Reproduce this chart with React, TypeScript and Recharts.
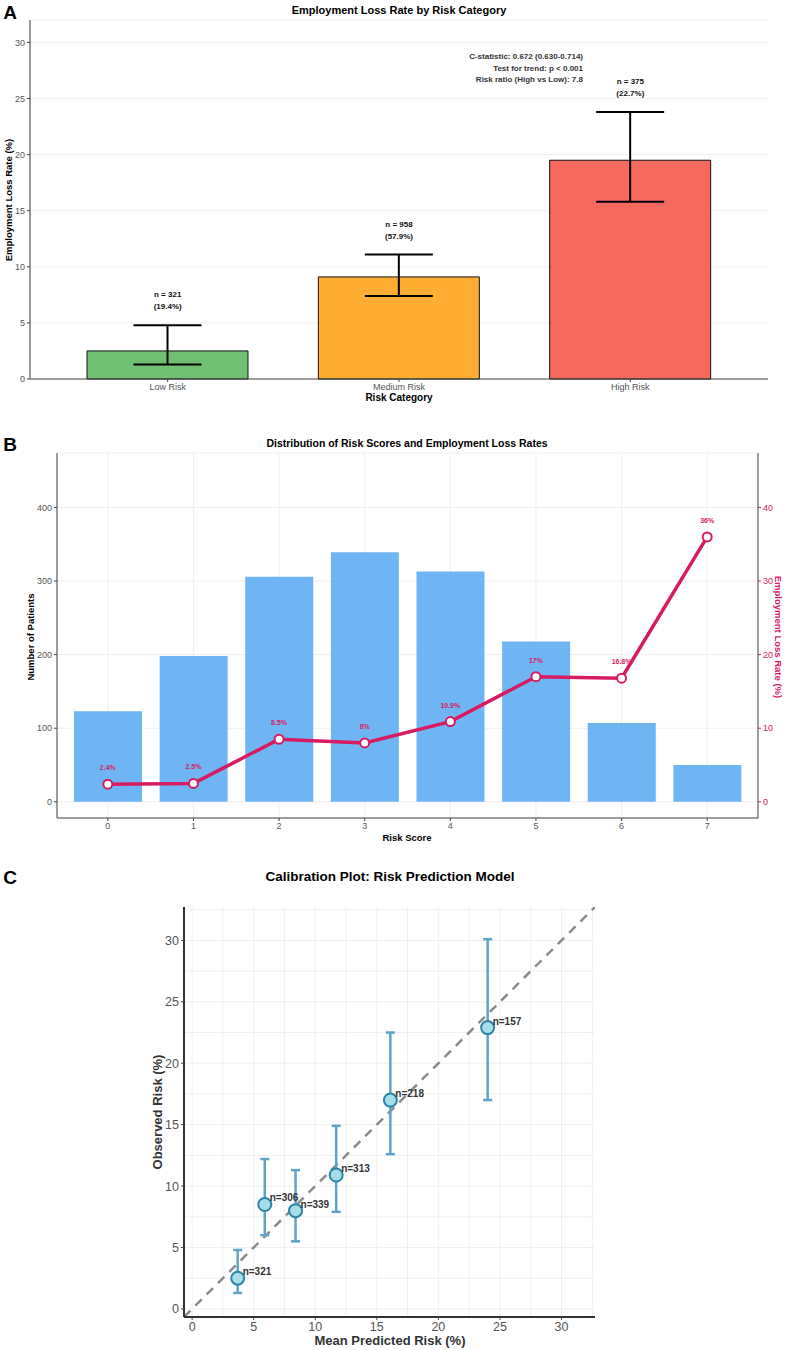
import React from 'react';
import {
  ComposedChart,
  ScatterChart,
  Bar,
  Line,
  Scatter,
  XAxis,
  YAxis,
  CartesianGrid,
  ErrorBar,
  LabelList,
  Cell,
  ReferenceLine,
} from 'recharts';

const FONT = '"Liberation Sans", Arial, Helvetica, sans-serif';

// ---------- Panel A: employment loss by risk category ----------
const categories = ['Low Risk', 'Medium Risk', 'High Risk'];
const lossRate = [2.5, 9.1, 19.5];
const ciLow = [1.3, 7.4, 15.8];
const ciHigh = [4.8, 11.1, 23.8];
const categoryN = [321, 958, 375];
const categoryShare = [19.4, 57.9, 22.7];
const categoryColors = ['#70BF73', '#FFAD33', '#F6695E'];
const rateTicksA = [0, 5, 10, 15, 20, 25, 30];
const statsLines = [
  'C-statistic: 0.672 (0.630-0.714)',
  'Test for trend: p < 0.001',
  'Risk ratio (High vs Low): 7.8',
];

// ---------- Panel B: score distribution ----------
const riskScores = ['0', '1', '2', '3', '4', '5', '6', '7'];
const patientCounts = [123, 198, 306, 339, 313, 218, 107, 50];
const scoreRates = [2.4, 2.5, 8.5, 8, 10.9, 17, 16.8, 36];
const countTicks = [0, 100, 200, 300, 400];
const rateTicksB = [0, 10, 20, 30, 40];

// ---------- Panel C: calibration ----------
const predicted = [3.7, 5.9, 8.4, 11.7, 16.1, 24.0];
const observed = [2.5, 8.5, 8.0, 10.9, 17.0, 22.9];
const obsLow = [1.3, 6.0, 5.5, 7.9, 12.6, 17.0];
const obsHigh = [4.8, 12.2, 11.3, 14.9, 22.5, 30.1];
const groupN = [321, 306, 339, 313, 218, 157];
const calibTicks = [0, 5, 10, 15, 20, 25, 30];
const calibGrid = [0, 2.5, 5, 7.5, 10, 12.5, 15, 17.5, 20, 22.5, 25, 27.5, 30, 32.5];

const LABEL_GAP = 2.2; // space between upper CI and the count label, in %

const dataA = categories.map((category, i) => ({
  category,
  rate: lossRate[i],
  err: [lossRate[i] - ciLow[i], ciHigh[i] - lossRate[i]],
  labelY: ciHigh[i] + LABEL_GAP,
}));

const dataB = riskScores.map((score, i) => ({
  score,
  n: patientCounts[i],
  rate: scoreRates[i],
}));

const dataC = predicted.map((p, i) => ({
  predicted: p,
  observed: observed[i],
  err: [observed[i] - obsLow[i], obsHigh[i] - observed[i]],
  n: groupN[i],
}));

const PINK = '#D81B60';
const AXIS = '#444';
const TICK = '#555';

type TxtProps = {
  x: number;
  y: number;
  size: number;
  color?: string;
  weight?: number;
  rotate?: number;
  align?: 'center' | 'right' | 'left';
  children: React.ReactNode;
};

const Txt = ({ x, y, size, color = '#000', weight = 700, rotate = 0, align = 'center', children }: TxtProps) => {
  const tx = align === 'center' ? '-50%' : align === 'right' ? '-100%' : '0';
  return (
    <div
      style={{
        position: 'absolute',
        left: x,
        top: y,
        transform: `translate(${tx}, -50%) rotate(${rotate}deg)`,
        fontFamily: FONT,
        fontSize: size,
        fontWeight: weight,
        color,
        whiteSpace: 'nowrap',
        lineHeight: 1,
      }}
    >
      {children}
    </div>
  );
};

const renderCountLabel = (props: any) => {
  const { x, y, value } = props;
  const i = categories.indexOf(value);
  if (i < 0) return null;
  return (
    <text x={x} y={y} textAnchor="middle" fontSize={8} fontWeight={700} fill="#111" fontFamily={FONT}>
      <tspan x={x} dy={-3}>{`n = ${categoryN[i]}`}</tspan>
      <tspan x={x} dy={12}>{`(${categoryShare[i]}%)`}</tspan>
    </text>
  );
};

const renderCalibPoint = (props: any) => {
  const { cx, cy, payload } = props;
  if (cx == null || cy == null) return null;
  return (
    <g>
      <circle cx={cx} cy={cy} r={6.5} fill="#A8DCE6" stroke="#2A86A8" strokeWidth={2} />
      <text x={cx + 5} y={cy - 3} fontSize={10} fontWeight={700} fill="#333" fontFamily={FONT}>
        {`n=${payload.n}`}
      </text>
    </g>
  );
};

export default function App() {
  return (
    <div style={{ position: 'absolute', left: 0, top: 0, width: 786, height: 1350, background: '#fff', fontFamily: FONT }}>
      {/* Panel A */}
      <div style={{ position: 'absolute', left: 0, top: 0 }}>
        <ComposedChart width={786} height={410} data={dataA} margin={{ top: 20, right: 18, bottom: 0, left: 0 }}>
          <CartesianGrid vertical={false} stroke="#EFEFEF" />
          <XAxis
            dataKey="category"
            height={31}
            padding={{ left: 22, right: 22 }}
            tickSize={3}
            tickLine={{ stroke: AXIS }}
            axisLine={{ stroke: AXIS }}
            tick={{ fontSize: 9, fill: TICK, fontFamily: FONT }}
          />
          <YAxis
            width={30}
            domain={[0, 32]}
            ticks={rateTicksA}
            tickSize={3}
            tickLine={{ stroke: AXIS }}
            axisLine={{ stroke: '#777', strokeWidth: 1.5 }}
            tick={{ fontSize: 9, fill: TICK, fontFamily: FONT }}
          />
          <Bar dataKey="rate" barSize={161} stroke="#111" strokeWidth={1} isAnimationActive={false}>
            {dataA.map((d, i) => (
              <Cell key={d.category} fill={categoryColors[i]} />
            ))}
            <ErrorBar dataKey="err" width={34} stroke="#000" strokeWidth={2} />
          </Bar>
          <Line dataKey="labelY" stroke="none" dot={false} activeDot={false} isAnimationActive={false}>
            <LabelList dataKey="category" content={renderCountLabel} />
          </Line>
        </ComposedChart>
      </div>
      <Txt x={10} y={12} size={19}>A</Txt>
      <Txt x={399} y={10} size={11}>Employment Loss Rate by Risk Category</Txt>
      <Txt x={9} y={200} size={9.5} rotate={-90}>Employment Loss Rate (%)</Txt>
      <Txt x={399} y={398} size={10}>Risk Category</Txt>
      {statsLines.map((line, i) => (
        <Txt key={line} x={583} y={57 + i * 11.6} size={8} color="#333" align="right">
          {line}
        </Txt>
      ))}

      {/* Panel B */}
      <div style={{ position: 'absolute', left: 0, top: 410 }}>
        <ComposedChart width={786} height={440} data={dataB} margin={{ top: 43, right: 0, bottom: 0, left: 0 }}>
          <CartesianGrid yAxisId="count" stroke="#EFEFEF" />
          <XAxis
            dataKey="score"
            height={32}
            padding={{ left: 8, right: 8 }}
            tickSize={3}
            tickLine={{ stroke: AXIS }}
            axisLine={{ stroke: AXIS }}
            tick={{ fontSize: 9, fill: TICK, fontFamily: FONT }}
          />
          <YAxis
            yAxisId="count"
            width={57}
            domain={[-22, 474]}
            ticks={countTicks}
            tickSize={3}
            tickLine={{ stroke: AXIS }}
            axisLine={{ stroke: AXIS }}
            tick={{ fontSize: 9, fill: TICK, fontFamily: FONT }}
          />
          <YAxis
            yAxisId="rate"
            orientation="right"
            width={28}
            domain={[-2.2, 47.4]}
            ticks={rateTicksB}
            tickSize={3}
            tickLine={{ stroke: PINK }}
            axisLine={{ stroke: AXIS }}
            tick={{ fontSize: 9, fill: PINK, fontFamily: FONT }}
          />
          <Bar yAxisId="count" dataKey="n" fill="#70B5F3" barSize={68} isAnimationActive={false} />
          <Line
            yAxisId="rate"
            dataKey="rate"
            stroke={PINK}
            strokeWidth={3.5}
            dot={{ r: 4.5, fill: '#fff', stroke: PINK, strokeWidth: 2 }}
            activeDot={false}
            isAnimationActive={false}
          >
            <LabelList
              dataKey="rate"
              position="top"
              offset={14}
              fill={PINK}
              fontSize={7}
              fontWeight={700}
              fontFamily={FONT}
              formatter={(v: any) => `${v}%`}
            />
          </Line>
        </ComposedChart>
      </div>
      <Txt x={10} y={444} size={19}>B</Txt>
      <Txt x={407} y={443} size={10.5}>Distribution of Risk Scores and Employment Loss Rates</Txt>
      <Txt x={31} y={637} size={9.5} rotate={-90}>Number of Patients</Txt>
      <Txt x={778} y={637} size={9.5} rotate={90} color={PINK}>Employment Loss Rate (%)</Txt>
      <Txt x={407} y={838} size={9.5}>Risk Score</Txt>

      {/* Panel C */}
      <div style={{ position: 'absolute', left: 0, top: 850 }}>
        <ScatterChart width={786} height={500} margin={{ top: 57, right: 191, bottom: 0, left: 0 }}>
          <CartesianGrid stroke="#EFEFEF" horizontalValues={calibGrid} verticalValues={calibGrid} />
          <XAxis
            type="number"
            dataKey="predicted"
            domain={[-0.66, 32.72]}
            ticks={calibTicks}
            allowDataOverflow
            height={33}
            tickSize={3}
            tickLine={{ stroke: AXIS }}
            axisLine={{ stroke: '#333', strokeWidth: 2 }}
            tick={{ fontSize: 12.5, fill: TICK, fontFamily: FONT }}
          />
          <YAxis
            type="number"
            dataKey="observed"
            domain={[-0.66, 32.72]}
            ticks={calibTicks}
            allowDataOverflow
            width={184}
            tickSize={3}
            tickLine={{ stroke: AXIS }}
            axisLine={{ stroke: '#333', strokeWidth: 2 }}
            tick={{ fontSize: 12.5, fill: TICK, fontFamily: FONT }}
          />
          <ReferenceLine
            segment={[
              { x: -0.66, y: -0.66 },
              { x: 32.72, y: 32.72 },
            ]}
            stroke="#8C8C8C"
            strokeWidth={2.5}
            strokeDasharray="9 7"
            ifOverflow="hidden"
          />
          <Scatter data={dataC} dataKey="observed" shape={renderCalibPoint} isAnimationActive={false}>
            <ErrorBar dataKey="err" direction="y" width={4.5} stroke="#5FA3C7" strokeWidth={2.5} />
          </Scatter>
        </ScatterChart>
      </div>
      <Txt x={10} y={877} size={19}>C</Txt>
      <Txt x={390} y={877} size={13.5}>Calibration Plot: Risk Prediction Model</Txt>
      <Txt x={157} y={1112} size={13} rotate={-90} color="#333">Observed Risk (%)</Txt>
      <Txt x={390} y={1340} size={13} color="#333">Mean Predicted Risk (%)</Txt>
    </div>
  );
}
